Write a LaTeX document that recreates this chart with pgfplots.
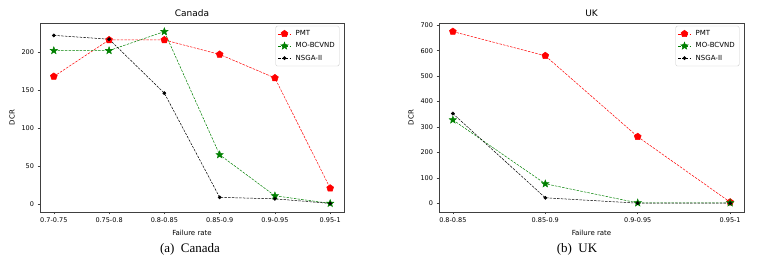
\documentclass[border=0pt]{standalone}
\usepackage{pgfplots}
\pgfplotsset{compat=1.18}
\usetikzlibrary{plotmarks}
\usepackage{fontspec}
\setmainfont{DejaVu Sans}
\newfontfamily\capfont{Liberation Serif}
\pgfdeclareplotmark{fstar}{%
  \pgfpathmoveto{\pgfpointpolar{90}{\pgfplotmarksize}}%
  \pgfpathlineto{\pgfpointpolar{126}{0.42\pgfplotmarksize}}%
  \pgfpathlineto{\pgfpointpolar{162}{\pgfplotmarksize}}%
  \pgfpathlineto{\pgfpointpolar{198}{0.42\pgfplotmarksize}}%
  \pgfpathlineto{\pgfpointpolar{234}{\pgfplotmarksize}}%
  \pgfpathlineto{\pgfpointpolar{270}{0.42\pgfplotmarksize}}%
  \pgfpathlineto{\pgfpointpolar{306}{\pgfplotmarksize}}%
  \pgfpathlineto{\pgfpointpolar{342}{0.42\pgfplotmarksize}}%
  \pgfpathlineto{\pgfpointpolar{18}{\pgfplotmarksize}}%
  \pgfpathlineto{\pgfpointpolar{54}{0.42\pgfplotmarksize}}%
  \pgfpathclose
  \pgfusepathqfillstroke}
\definecolor{mplgreen}{RGB}{0,128,0}
\pgfplotsset{
  mystyle/.style={
    scale only axis, height=189pt,
    axis line style={black!75, line width=0.5pt},
    tick align=outside, tick pos=left,
    major tick length=2.5pt,
    tick style={black!75, line width=0.5pt},
    ticklabel style={font=\fontsize{6.5}{7}\selectfont},
    /pgf/number format/assume math mode=true,
    xlabel={Failure rate}, ylabel={DCR},
    label style={font=\fontsize{7}{8}\selectfont},
    title style={font=\fontsize{9}{10}\selectfont, yshift=-3pt},
    xtick=data,
    legend style={at={(0.985,0.985)}, anchor=north east, draw=black!20, rounded corners=1.5pt,
      font=\fontsize{7}{8}\selectfont, row sep=1.5pt, inner sep=2.5pt,
      /tikz/every odd column/.append style={column sep=3pt}},
    legend image code/.code={\draw[mark repeat=2,mark phase=2] plot coordinates {(0pt,0pt) (6pt,0pt) (12pt,0pt)};},
    legend cell align=left,
    every axis plot/.append style={line width=0.5pt, dash pattern=on 2.5pt off 1.2pt},
  },
  pmt/.style={red, mark=pentagon*, mark size=3.6pt, mark options={solid, fill=red}},
  mob/.style={mplgreen, mark=fstar, mark size=3.8pt, mark options={solid, fill=mplgreen}},
  nsg/.style={black, mark=*, mark size=1.6pt, mark options={solid, fill=black}},
}
\begin{document}
\begin{tikzpicture}[x=1pt,y=1pt]
\path (0,0) rectangle (765,270);
\begin{axis}[mystyle, at={(40pt,58pt)}, anchor=south west, width=304pt,
  title={Canada},
  xmin=-0.25, xmax=5.25, ymin=-10.3, ymax=238.3,
  ytick={0,50,100,150,200},
  xticklabels={0.7-0.75,0.75-0.8,0.8-0.85,0.85-0.9,0.9-0.95,0.95-1}]
\addplot[pmt] coordinates {(0,168) (1,216) (2,216) (3,197) (4,166) (5,21)};
\addlegendentry{PMT}
\addplot[mob] coordinates {(0,202) (1,202) (2,227) (3,65) (4,11) (5,1)};
\addlegendentry{MO-BCVND}
\addplot[nsg] coordinates {(0,222) (1,217) (2,146) (3,9) (4,7) (5,1)};
\addlegendentry{NSGA-II}
\end{axis}
\begin{axis}[mystyle, at={(439pt,58pt)}, anchor=south west, width=305pt,
  title={UK},
  xmin=-0.15, xmax=3.15, ymin=-33.75, ymax=708.75,
  ytick={0,100,200,300,400,500,600,700},
  xticklabels={0.8-0.85,0.85-0.9,0.9-0.95,0.95-1}]
\addplot[pmt] coordinates {(0,675) (1,580) (2,262) (3,5)};
\addlegendentry{PMT}
\addplot[mob] coordinates {(0,328) (1,77) (2,2) (3,2)};
\addlegendentry{MO-BCVND}
\addplot[nsg] coordinates {(0,353) (1,22) (2,1) (3,1)};
\addlegendentry{NSGA-II}
\end{axis}
\node[font=\capfont\fontsize{13}{14}\selectfont] at (190,21) {(a)\ \ Canada};
\node[font=\capfont\fontsize{13}{14}\selectfont] at (577,21) {(b)\ \ UK};
\end{tikzpicture}
\end{document}
